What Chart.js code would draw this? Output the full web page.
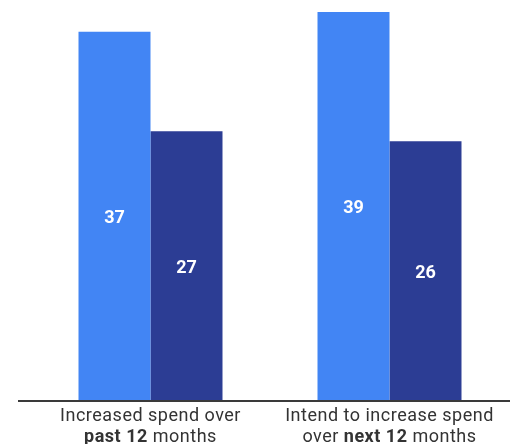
<!DOCTYPE html>
<html>
<head>
<meta charset="utf-8">
<script src="https://cdn.jsdelivr.net/npm/chart.js@4"></script>
<style>
  html, body { margin: 0; padding: 0; background: #ffffff; }
  #wrap { width: 510px; height: 444px; position: relative; }
</style>
</head>
<body>
<div id="wrap"><canvas id="c"></canvas></div>
<script>
// Category labels; **text** marks bold segments
const categories = [
  "Increased spend over\n**past 12** months",
  "Intend to increase spend\nover **next 12** months"
];
const seriesNames = ["Series A", "Series B"];
const seriesA = [37, 39];
const seriesB = [27, 26];
const yMax = 40;

const colorA = "#4285F4";
const colorB = "#2C3D94";
const FONT = "Roboto, 'Open Sans', sans-serif";

function parseSegments(line) {
  const parts = line.split("**");
  return parts.map((t, i) => ({ text: t, bold: i % 2 === 1 })).filter(s => s.text.length);
}

const customDraw = {
  id: "customDraw",
  afterDatasetsDraw(chart) {
    const ctx = chart.ctx;
    const yScale = chart.scales.y;
    const xScale = chart.scales.x;
    const base = yScale.getPixelForValue(0);
    // baseline axis line
    ctx.save();
    ctx.strokeStyle = "#3a3a3a";
    ctx.lineWidth = 2;
    ctx.beginPath();
    ctx.moveTo(18, base + 1);
    ctx.lineTo(510, base + 1);
    ctx.stroke();

    // value labels inside bars
    ctx.fillStyle = "#ffffff";
    ctx.font = "bold 18px " + FONT;
    ctx.textAlign = "center";
    ctx.textBaseline = "middle";
    chart.data.datasets.forEach((ds, di) => {
      const meta = chart.getDatasetMeta(di);
      meta.data.forEach((bar, i) => {
        const yc = (bar.y + bar.base) / 2;
        ctx.fillText(String(ds.data[i]), bar.x, yc + 2.5);
      });
    });

    // category labels with mixed bold
    ctx.fillStyle = "#333333";
    ctx.textBaseline = "alphabetic";
    ctx.textAlign = "left";
    ctx.letterSpacing = "0.5px";
    categories.forEach((cat, i) => {
      const cx = xScale.getPixelForValue(i);
      const lines = cat.split("\n");
      lines.forEach((line, li) => {
        const segs = parseSegments(line);
        let total = 0;
        segs.forEach(s => {
          ctx.font = (s.bold ? "bold " : "") + "18px " + FONT;
          s.w = ctx.measureText(s.text).width;
          total += s.w;
        });
        let x = cx - total / 2;
        const y = base + 21 + li * 21;
        segs.forEach(s => {
          ctx.font = (s.bold ? "bold " : "") + "18px " + FONT;
          ctx.fillText(s.text, x, y);
          x += s.w;
        });
      });
    });
    ctx.restore();
  }
};

new Chart(document.getElementById("c"), {
  type: "bar",
  data: {
    labels: categories,
    datasets: [
      { label: seriesNames[0], data: seriesA, backgroundColor: colorA, borderWidth: 0 },
      { label: seriesNames[1], data: seriesB, backgroundColor: colorB, borderWidth: 0 }
    ]
  },
  options: {
    responsive: true,
    maintainAspectRatio: false,
    animation: false,
    layout: { padding: { left: 31, right: 1, top: 2, bottom: 44 } },
    plugins: { legend: { display: false }, tooltip: { enabled: false } },
    datasets: { bar: { barPercentage: 1.0, categoryPercentage: 0.6025 } },
    scales: {
      x: { display: false },
      y: { display: false, min: 0, max: yMax }
    }
  },
  plugins: [customDraw]
});
</script>
</body>
</html>
